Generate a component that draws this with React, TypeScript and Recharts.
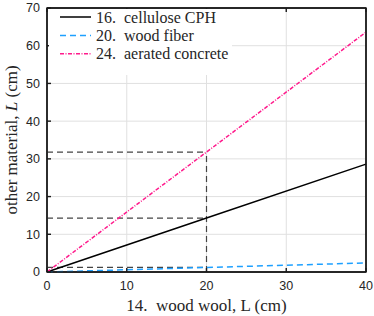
import React from "react";
import {
  LineChart,
  Line,
  XAxis,
  YAxis,
  CartesianGrid,
  ReferenceArea,
} from "recharts";

// thickness of wood wool (x) and equivalent thickness of other materials
const woolCm = [0, 20, 40];
const celluloseCm = [0, 14.3, 28.6];
const woodFiberCm = [0, 1.2, 2.4];
const aeratedCm = [0, 31.8, 63.6];

const xTicks = [0, 10, 20, 30, 40];
const yTicks = [0, 10, 20, 30, 40, 50, 60, 70];

const seriesKeys = ["cellulose", "woodFiber", "aerated"];
const seriesNames = ["16. cellulose CPH", "20. wood fiber", "24. aerated concrete"];
const seriesColors = ["#000000", "#1ea0ff", "#ff1a8c"];
const seriesDash = ["0", "6 4", "4 1.5 1 1.5"];

// the highlighted point at 20 cm of wood wool
const markIdx = 1;

const AXIS = "#262626";
const BOX = "#1a1a1a";
const GUIDE = "#444444";
const SERIF = "'Liberation Serif', 'DejaVu Serif', serif";
const SANS = "'Liberation Sans', Arial, sans-serif";

const data = woolCm.map((x, i) => ({
  x,
  cellulose: celluloseCm[i],
  woodFiber: woodFiberCm[i],
  aerated: aeratedCm[i],
}));

// dashed guides from the axes to each curve at the marked x
const markX = woolCm[markIdx];
const markYs = [aeratedCm[markIdx], celluloseCm[markIdx], woodFiberCm[markIdx]];
const guides = [
  ...markYs.map((y) => [
    { x: 0, y },
    { x: markX, y },
  ]),
  [
    { x: markX, y: 0 },
    { x: markX, y: markYs[0] },
  ],
];

function LegendBox() {
  return (
    <div
      style={{
        position: "absolute",
        left: 49,
        top: 9,
        width: 183,
        height: 66,
        background: "#fff",
      }}
    >
      <svg width={183} height={66} style={{ display: "block" }}>
        {seriesNames.map((name, i) => {
          const y = 8 + i * 18.4;
          return (
            <g key={name}>
              <line
                x1={11}
                x2={42}
                y1={y}
                y2={y}
                stroke={seriesColors[i]}
                strokeWidth={1.5}
                strokeDasharray={seriesDash[i]}
              />
              <text
                x={47}
                y={y}
                dominantBaseline="central"
                style={{ fontFamily: SERIF, fontSize: 16 }}
                fill={AXIS}
              >
                {name.replace(". ", ".\u00a0 ")}
              </text>
            </g>
          );
        })}
      </svg>
    </div>
  );
}

function Titles() {
  return (
    <svg
      width={374}
      height={316}
      style={{ position: "absolute", left: 0, top: 0, pointerEvents: "none" }}
    >
      <text
        x={11}
        y={140}
        transform="rotate(-90 11 140)"
        textAnchor="middle"
        dominantBaseline="central"
        style={{ fontFamily: SERIF, fontSize: 17 }}
        fill={AXIS}
      >
        other material, <tspan fontStyle="italic">L</tspan> (cm)
      </text>
      <text
        x={206.5}
        y={305}
        textAnchor="middle"
        dominantBaseline="central"
        style={{ fontFamily: SERIF, fontSize: 17 }}
        fill={AXIS}
      >
        {"14.\u00a0 wood wool, L (cm)"}
      </text>
    </svg>
  );
}

export default function App() {
  const xMax = xTicks[xTicks.length - 1];
  const yMax = yTicks[yTicks.length - 1];
  return (
    <div style={{ position: "absolute", left: 0, top: 0, width: 374, height: 316, background: "#fff" }}>
      <LineChart
        width={374}
        height={316}
        data={data}
        margin={{ top: 0, right: 1, left: 0, bottom: 0 }}
      >
        <CartesianGrid stroke="#e0e0e0" strokeWidth={1} />
        <XAxis
          dataKey="x"
          type="number"
          domain={[0, xMax]}
          ticks={xTicks}
          height={44}
          stroke={BOX}
          strokeWidth={1.4}
          tickSize={-4}
          tickMargin={13}
          tick={{ fill: AXIS, fontSize: 12.5, fontFamily: SANS }}
        />
        <XAxis
          xAxisId="top"
          orientation="top"
          dataKey="x"
          type="number"
          domain={[0, xMax]}
          ticks={xTicks}
          height={8}
          stroke={BOX}
          strokeWidth={1.4}
          tickSize={-4}
          tickFormatter={() => ""}
        />
        <YAxis
          type="number"
          domain={[0, yMax]}
          ticks={yTicks}
          width={47}
          stroke={BOX}
          strokeWidth={1.4}
          tickSize={-4}
          tickMargin={11}
          tick={{ fill: AXIS, fontSize: 12.5, fontFamily: SANS }}
        />
        <YAxis
          yAxisId="right"
          orientation="right"
          type="number"
          domain={[0, yMax]}
          ticks={yTicks}
          width={7}
          stroke={BOX}
          strokeWidth={1.4}
          tickSize={-4}
          tickFormatter={() => ""}
        />
        <ReferenceArea
          x1={0}
          x2={xMax}
          y1={0}
          y2={yMax}
          fill="none"
          stroke={BOX}
          strokeWidth={1.4}
        />
        {guides.map((seg, i) => (
          <Line
            key={"guide" + i}
            data={seg}
            dataKey="y"
            type="linear"
            stroke={GUIDE}
            strokeWidth={1.2}
            strokeDasharray="6 4"
            dot={false}
            activeDot={false}
            legendType="none"
            isAnimationActive={false}
          />
        ))}
        {seriesKeys.map((k, i) => (
          <Line
            key={k}
            dataKey={k}
            name={seriesNames[i]}
            type="linear"
            stroke={seriesColors[i]}
            strokeWidth={1.5}
            strokeDasharray={seriesDash[i]}
            dot={false}
            activeDot={false}
            isAnimationActive={false}
          />
        ))}
      </LineChart>
      <LegendBox />
      <Titles />
    </div>
  );
}
